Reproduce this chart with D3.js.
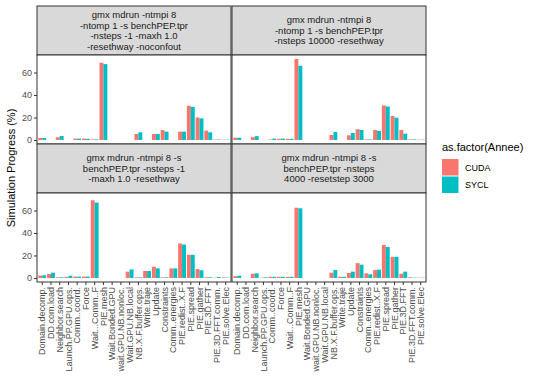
<!DOCTYPE html>
<html>
  <head>
    <meta charset="utf-8"/>
    <script type="text/javascript" src="https://cdnjs.cloudflare.com/ajax/libs/d3/7.8.5/d3.min.js"></script>
    <style type="text/css">

html, body {
  margin: 0;
  padding: 0;
  background: #fff;
}

svg {
  font-family: "Liberation Sans", Arial, sans-serif;
}

.strip text {
  font-size: 9.5px;
  fill: #1a1a1a;
}

.axis text {
  font-size: 9px;
  fill: #4d4d4d;
}

.axis line {
  stroke: #333;
}

    </style>
  </head>
  <body>
    <script type="text/javascript">

// categories, shared by the four panels
var categories = ["Domain.decomp.", "DD.com.load", "Neighbor.search", "Launch.PP.GPU.ops.",
  "Comm..coord.", "Force", "Wait...Comm..F", "PIE.mesh", "Wait.Bonded.GPU",
  "wait.GPU.NB.nonloc.", "Wait.GPU.NB.local", "NB.X.F.buffer.ops.", "Write.traje",
  "Update", "Constraints", "Comm..energies", "PIE.redist..X.F", "PIE.spread",
  "PIE.gather", "PIE.3D.FFT", "PIE.3D.FFT.comm.", "PIE.solve.Elec"];

var series = ["CUDA", "SYCL"];
var colors = ["#F8766D", "#00BFC4"];

var yTicks = [0, 20, 40, 60];

// strip titles
var title1 = ["gmx mdrun -ntmpi 8", "-ntomp 1 -s benchPEP.tpr", "-nsteps -1 -maxh 1.0", "-resethway -noconfout"];
var title2 = ["gmx mdrun -ntmpi 8", "-ntomp 1 -s benchPEP.tpr", "-nsteps 10000 -resethway"];
var title3 = ["gmx mdrun -ntmpi 8 -s", "benchPEP.tpr -nsteps -1", "-maxh 1.0 -resethway"];
var title4 = ["gmx mdrun -ntmpi 8 -s", "benchPEP.tpr -nsteps", "4000 -resetstep 3000"];

// values (%)
var cuda1 = [1.8, 0, 2.4, 0, 1.2, 1.2, 0.5, 68.7, 0, 0, 0, 5.3, 0, 5.3, 8.8, 0, 7.4, 30.4, 20.0, 8.3, 0.4, 0.3];
var sycl1 = [1.8, 0, 3.5, 0, 1.2, 1.0, 0.5, 67.5, 0, 0, 0, 6.8, 0, 5.3, 7.4, 0, 7.4, 29.5, 19.2, 6.8, 0.4, 0.3];
var cuda2 = [2.0, 0, 2.5, 0, 0.5, 1.0, 1.0, 72.0, 0, 0, 0, 4.4, 0, 4.1, 9.5, 0.5, 8.9, 30.7, 21.3, 8.9, 0.5, 0.3];
var sycl2 = [2.0, 0, 3.4, 0, 1.2, 1.2, 1.0, 66.0, 0, 0, 0, 7.1, 0, 6.2, 8.9, 0.5, 8.0, 29.8, 19.8, 5.6, 0.5, 0.3];
var cuda3 = [2.1, 3.5, 0.6, 0.9, 1.2, 1.2, 69.1, 0, 0, 0, 5.6, 0.6, 6.2, 10.0, 0.6, 8.5, 30.6, 20.6, 7.9, 0.6, 0.3, 0.5];
var sycl3 = [2.4, 4.7, 0.6, 2.0, 1.2, 1.2, 67.1, 0, 0, 0, 7.6, 0.6, 6.2, 8.5, 0.6, 8.5, 29.7, 20.6, 6.8, 0.6, 0.8, 0.3];
var cuda4 = [1.5, 0, 3.8, 0.3, 1.0, 1.0, 1.0, 62.5, 0, 0, 0, 4.7, 1.0, 4.4, 13.2, 4.1, 7.0, 29.4, 18.8, 3.8, 0.6, 0.3];
var sycl4 = [2.0, 0, 4.1, 0.6, 1.0, 1.0, 1.0, 62.0, 0, 0, 0, 7.0, 1.0, 5.6, 11.8, 3.2, 7.4, 27.6, 18.8, 5.6, 0.3, 0.3];

var panels = [
  {title: title1, values: [cuda1, sycl1], col: 0, row: 0},
  {title: title2, values: [cuda2, sycl2], col: 1, row: 0},
  {title: title3, values: [cuda3, sycl3], col: 0, row: 1},
  {title: title4, values: [cuda4, sycl4], col: 1, row: 1}
];

var width = 540, height = 386;
var colX = [37, 232], panelW = 194;
var rowY = [6, 144], stripH = 49, panelH = 89;

var svg = d3.select("body").append("svg")
    .attr("width", width)
    .attr("height", height);

var x = d3.scaleBand()
    .domain(categories)
    .range([0, panelW])
    .paddingInner(0)
    .paddingOuter(0.1);

var xs = d3.scaleBand()
    .domain(series)
    .range([-0.45 * x.step(), 0.45 * x.step()]);

var ymax = d3.max(panels, function(p) { return d3.max(p.values, function(v) { return d3.max(v); }); });
var y = d3.scaleLinear()
    .domain([-0.05 * ymax, ymax * 1.05])
    .range([panelH, 0]);

panels.forEach(function(p) {
  var g = svg.append("g")
      .attr("transform", "translate(" + colX[p.col] + "," + rowY[p.row] + ")");

  // strip
  var strip = g.append("g").attr("class", "strip");
  strip.append("rect")
      .attr("width", panelW)
      .attr("height", stripH)
      .attr("fill", "#d9d9d9")
      .attr("stroke", "#333")
      .attr("stroke-width", 1);
  var lh = 10.5;
  strip.selectAll("text")
      .data(p.title)
    .enter().append("text")
      .attr("x", panelW / 2)
      .attr("y", function(d, i) { return stripH / 2 + (i - (p.title.length - 1) / 2) * lh; })
      .attr("dy", "0.35em")
      .attr("text-anchor", "middle")
      .text(function(d) { return d; });

  var plot = g.append("g")
      .attr("transform", "translate(0," + stripH + ")");

  plot.append("rect")
      .attr("width", panelW)
      .attr("height", panelH)
      .attr("fill", "#fff");

  // bars
  series.forEach(function(s, si) {
    plot.append("g")
        .attr("fill", colors[si])
      .selectAll("rect")
        .data(p.values[si])
      .enter().append("rect")
        .attr("x", function(d, i) { return x(categories[i]) + x.bandwidth() / 2 + xs(s); })
        .attr("width", xs.bandwidth())
        .attr("y", function(d) { return y(d); })
        .attr("height", function(d) { return y(0) - y(d); });
  });

  plot.append("rect")
      .attr("width", panelW)
      .attr("height", panelH)
      .attr("fill", "none")
      .attr("stroke", "#333")
      .attr("stroke-width", 1);

  if (p.col == 0) {
    var ya = plot.append("g")
        .attr("class", "axis")
        .call(d3.axisLeft(y).tickValues(yTicks).tickSize(3).tickPadding(2));
    ya.select(".domain").remove();
  }

  if (p.row == 1) {
    var xa = plot.append("g")
        .attr("class", "axis")
        .attr("transform", "translate(0," + panelH + ")")
        .call(d3.axisBottom(x).tickSize(3).tickPadding(2));
    xa.select(".domain").remove();
    xa.selectAll("text")
        .attr("transform", "rotate(-90)")
        .attr("text-anchor", "end")
        .attr("x", -5)
        .attr("y", 0)
        .attr("dy", "0.35em");
  }
});

// y axis title
svg.append("text")
    .attr("transform", "translate(15,168) rotate(-90)")
    .attr("text-anchor", "middle")
    .attr("font-size", "11px")
    .attr("fill", "#000")
    .text("Simulation Progress (%)");

// legend
var legend = svg.append("g")
    .attr("transform", "translate(442,140)");

legend.append("text")
    .attr("x", 0)
    .attr("y", 11)
    .attr("font-size", "11px")
    .text("as.factor(Annee)");

var key = legend.selectAll(".key")
    .data(series)
  .enter().append("g")
    .attr("class", "key")
    .attr("transform", function(d, i) { return "translate(0," + (19 + i * 17.5) + ")"; });

key.append("rect")
    .attr("width", 16.5)
    .attr("height", 16.5)
    .attr("fill", function(d, i) { return colors[i]; });

key.append("text")
    .attr("x", 23)
    .attr("y", 8.5)
    .attr("dy", "0.35em")
    .attr("font-size", "9px")
    .text(function(d) { return d; });

    </script>
  </body>
</html>
